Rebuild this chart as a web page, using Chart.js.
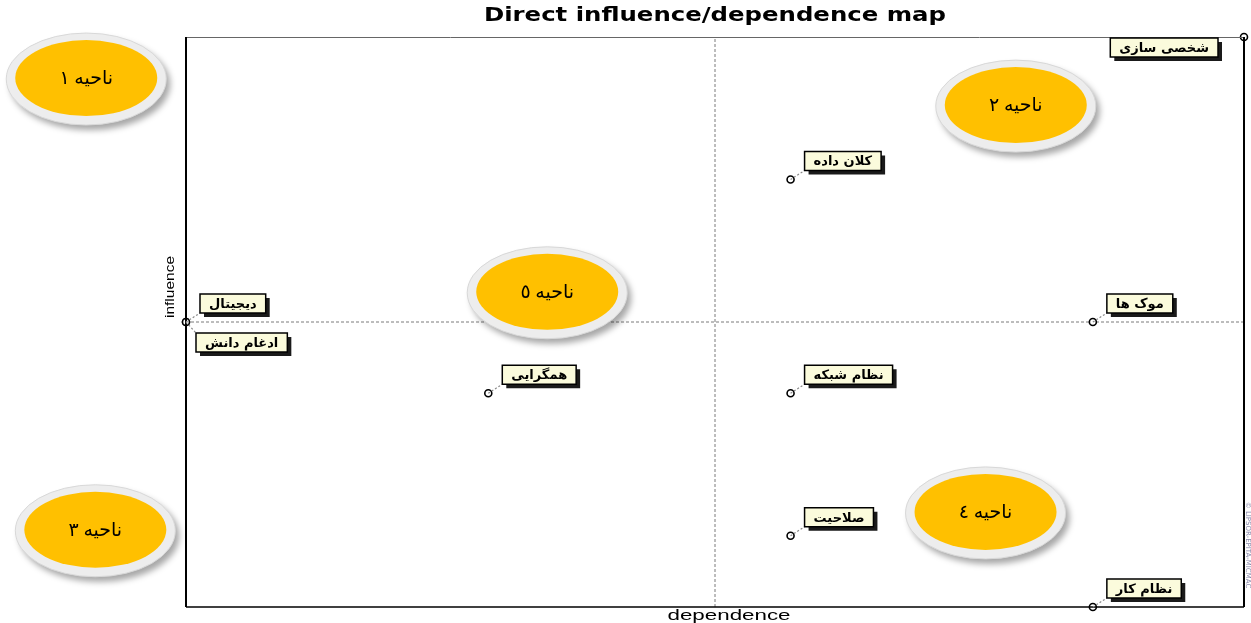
<!DOCTYPE html>
<html><head><meta charset="utf-8">
<script src="https://cdn.jsdelivr.net/npm/chart.js@4"></script>
<style>html,body{margin:0;padding:0;background:#fff;overflow:hidden}#wrap{width:1251px;height:623px;position:relative}</style>
</head><body><div id="wrap"><canvas id="c" width="1251" height="623"></canvas></div>
<script>
// ---- data ----
const variables = ['شخصی سازی','کلان داده','دیجیتال','ادغام دانش','موک ها','همگرایی','نظام شبکه','صلاحیت','نظام کار'];
const dependence = [7, 4, 0, 0, 6, 2, 4, 4, 6];
const influence  = [8, 6, 4, 4, 4, 3, 3, 1, 0];
const labelSide  = ['left','right','right','below','right','right','right','right','right'];
const regionLabels = ['ناحیه ۱','ناحیه ۲','ناحیه ۳','ناحیه ٤','ناحیه ٥'];
const regionDep = [-0.66, 5.49, -0.60, 5.29, 2.39];
const regionInf = [7.41, 7.03, 1.07, 1.32, 4.41];
const depRange = [0, 7];
const infRange = [0, 8];
const depMid = 3.5, infMid = 4;
const titleText = 'Direct influence/dependence map';
const xTitle = 'dependence', yTitle = 'influence';

const points = dependence.map((d,i)=>({x:d, y:influence[i]}));

function stretched(ctx, text, cx, cy, font, target, rot){
  ctx.save(); ctx.font = font;
  const w = ctx.measureText(text).width;
  ctx.translate(cx, cy); if (rot) ctx.rotate(rot);
  ctx.scale(target / w, 1);
  ctx.textAlign = 'center'; ctx.textBaseline = 'middle'; ctx.fillStyle = '#000';
  ctx.fillText(text, 0, 0); ctx.restore();
}
function ellipse(ctx, cx, cy, rx, ry){ ctx.beginPath(); ctx.ellipse(cx, cy, rx, ry, 0, 0, Math.PI*2); }

const decor = {
  id: 'decor',
  beforeDatasetsDraw(chart){
    const {ctx, chartArea:a} = chart;
    ctx.save(); ctx.fillStyle = '#fff'; ctx.fillRect(a.left, a.top, a.right-a.left, a.bottom-a.top); ctx.restore();
  },
  afterDatasetsDraw(chart){
    const {ctx, chartArea:a, scales:{x, y}} = chart;
    // frame
    ctx.save();
    ctx.strokeStyle = '#666'; ctx.lineWidth = 1;
    ctx.beginPath(); ctx.moveTo(a.left, a.top+0.5); ctx.lineTo(a.right, a.top+0.5); ctx.stroke();
    ctx.strokeStyle = '#000'; ctx.lineWidth = 2;
    ctx.beginPath(); ctx.moveTo(a.left, a.top); ctx.lineTo(a.left, a.bottom); ctx.stroke();
    ctx.beginPath(); ctx.moveTo(a.right, a.top); ctx.lineTo(a.right, a.bottom); ctx.stroke();
    ctx.lineWidth = 1.5;
    ctx.beginPath(); ctx.moveTo(a.left, a.bottom); ctx.lineTo(a.right, a.bottom); ctx.stroke();
    ctx.restore();
    // titles
    stretched(ctx, titleText, (a.left+a.right)/2, 16, 'bold 19px "DejaVu Sans", Arial, sans-serif', 462);
    stretched(ctx, xTitle, 729, 616, '14px "Liberation Sans", Arial, sans-serif', 123);
    stretched(ctx, yTitle, 170, 287, '13px "Liberation Sans", Arial, sans-serif', 62, -Math.PI/2);
    // watermark
    ctx.save(); ctx.translate(1248, 545); ctx.rotate(Math.PI/2); ctx.font='7px "DejaVu Sans"'; ctx.fillStyle='#8888aa';
    ctx.textAlign='center'; ctx.textBaseline='middle'; ctx.fillText('© LIPSOR-EPITA-MICMAC', 0, 0); ctx.restore();
    // labels
    ctx.save();
    ctx.font = 'bold 13px "DejaVu Sans", sans-serif';
    variables.forEach((name, i) => {
      const px = x.getPixelForValue(dependence[i]);
      const py = y.getPixelForValue(influence[i]);
      const w = ctx.measureText(name).width + 18, h = 19;
      let bx, by, lx, ly;
      if (labelSide[i] === 'left') { bx = px - 26 - w; by = py + 1; lx = null; }
      else if (labelSide[i] === 'below') { bx = px + 10; by = py + 11; lx = bx; ly = by; }
      else { bx = px + 14; by = py - 9 - h; lx = bx; ly = by + h; }
      if (lx !== null) {
        ctx.save(); ctx.strokeStyle = '#888'; ctx.lineWidth = 1.2; ctx.setLineDash([2,2]);
        ctx.beginPath(); ctx.moveTo(px, py); ctx.lineTo(lx, ly); ctx.stroke(); ctx.restore();
      }
      ctx.fillStyle = '#1a1a1a'; ctx.fillRect(bx+4, by+4, w, h);
      ctx.fillStyle = '#fbfbdc'; ctx.fillRect(bx, by, w, h);
      ctx.strokeStyle = '#000'; ctx.lineWidth = 1.5; ctx.strokeRect(bx, by, w, h);
      ctx.fillStyle = '#000'; ctx.textAlign = 'center'; ctx.textBaseline = 'middle'; ctx.direction = 'rtl';
      ctx.fillText(name, bx + w/2, by + h/2 + 1);
    });
    ctx.restore();
  },
  afterDraw(chart){
    const {ctx, scales:{x, y}} = chart;
    regionLabels.forEach((t, i) => {
      const cx = x.getPixelForValue(regionDep[i]);
      const cy = y.getPixelForValue(regionInf[i]);
      ctx.save();
      ctx.shadowColor = 'rgba(0,0,0,0.35)'; ctx.shadowOffsetX = 4; ctx.shadowOffsetY = 5; ctx.shadowBlur = 6;
      ellipse(ctx, cx, cy, 80, 46); ctx.fillStyle = '#ededed'; ctx.fill();
      ctx.shadowColor = 'transparent';
      ctx.strokeStyle = '#d8d8d8'; ctx.lineWidth = 1; ctx.stroke();
      ellipse(ctx, cx, cy - 1, 71, 38); ctx.fillStyle = '#FFC000'; ctx.fill();
      ctx.fillStyle = '#000'; ctx.font = '19px "Times New Roman", "Liberation Serif", "DejaVu Sans", serif';
      ctx.textAlign = 'center'; ctx.textBaseline = 'middle'; ctx.direction = 'rtl';
      ctx.fillText(t, cx, cy);
      ctx.restore();
    });
  }
};

new Chart(document.getElementById('c'), {
  type: 'scatter',
  data: {
    datasets: [
      { type:'line', data:[{x:depMid,y:infRange[0]},{x:depMid,y:infRange[1]}], borderColor:'#7a7a7a', borderWidth:1, borderDash:[3,2], pointRadius:0, order:2 },
      { type:'line', data:[{x:depRange[0],y:infMid},{x:depRange[1],y:infMid}], borderColor:'#7a7a7a', borderWidth:1, borderDash:[3,2], pointRadius:0, order:2 },
      { data: points, pointRadius:3.5, pointBackgroundColor:'#fff', pointBorderColor:'#000', pointBorderWidth:1.6, clip:false, order:1 }
    ]
  },
  options: {
    responsive:false, animation:false, devicePixelRatio:1,
    layout:{ padding:{ left:186, right:7, top:37, bottom:16 } },
    scales:{
      x:{ type:'linear', min:depRange[0], max:depRange[1], display:false },
      y:{ type:'linear', min:infRange[0], max:infRange[1], display:false }
    },
    plugins:{ legend:{display:false}, tooltip:{enabled:false} }
  },
  plugins:[decor]
});
</script></body></html>
